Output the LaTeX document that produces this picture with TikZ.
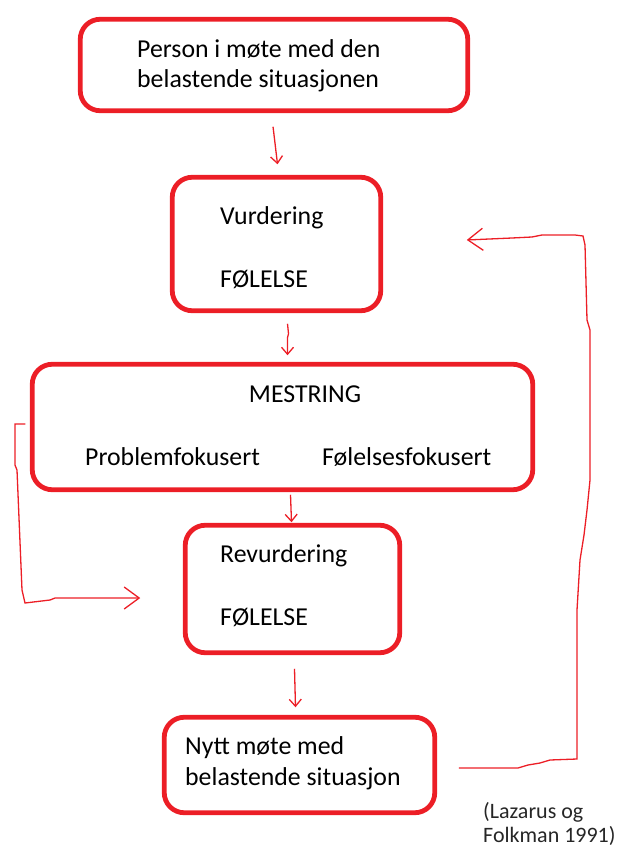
\documentclass[tikz,border=0pt]{standalone}
\usepackage{fontspec}
\setmainfont{Carlito}
\usetikzlibrary{arrows.meta}
\definecolor{pred}{RGB}{236,30,38}
\tikzset{
  box/.style={draw=pred, line width=4.8pt, rounded corners=20pt, rectangle, inner sep=0pt, outer sep=0pt},
  txt/.style={anchor=base west, inner sep=0pt, font=\fontsize{25.8}{30.5}\selectfont, align=left},
  cite/.style={anchor=base west, inner sep=0pt, font=\fontsize{22}{23.5}\selectfont, align=left, text=black!85},
  harrow/.style={draw=pred, line width=1.3pt, -{Straight Barb[length=7pt,width=12pt]}},
  larrow/.style={draw=pred, line width=1.3pt, -{Straight Barb[length=15pt,width=22pt]}},
}
\begin{document}
\begin{tikzpicture}[x=1pt,y=-1pt]
\useasboundingbox (0,0) rectangle (632,850);
% boxes
\node[box, minimum width=387.5pt, minimum height=91.5pt] (b1) at (274,65) {};
\node[box, minimum width=208.5pt, minimum height=133.5pt] (b2) at (276.5,244) {};
\node[box, minimum width=500.5pt, minimum height=125.5pt] (b3) at (282.5,427) {};
\node[box, minimum width=214.5pt, minimum height=127.5pt] (b4) at (292.5,589) {};
\node[box, minimum width=270.5pt, minimum height=95.5pt] (b5) at (299.5,765) {};
% texts (base anchor of a multi-line node is the last line)
\node[txt] (t1) at (137,88) {Person i møte med den\\belastende situasjonen};
\node[txt] (t2a) at (220,225) {Vurdering};
\node[txt] (t2b) at (220,287) {FØLELSE};
\node[txt, anchor=base] (t3a) at (305,402) {MESTRING};
\node[txt] (t3b) at (85,465) {Problemfokusert};
\node[txt] (t3c) at (322,465) {Følelsesfokusert};
\node[txt] (t4a) at (220,562) {Revurdering};
\node[txt] (t4b) at (220,625) {FØLELSE};
\node[txt] (t5) at (185,785) {Nytt møte med\\belastende situasjon};
\node[cite] (c) at (483,842) {(Lazarus og\\Folkman 1991)};
% small down arrows
\draw[harrow] ([xshift=-1pt,yshift=-16pt]b1.south) -- ++(1,8) -- ([xshift=1pt,yshift=13pt]b2.north);
\draw[harrow] ([xshift=11pt,yshift=-13pt]b2.south) -- ++(1,10) -- ++(-1,4) -- ([xshift=5pt,yshift=9pt]b3.north);
\draw[harrow] ([xshift=8pt,yshift=-5pt]b3.south) -- ([xshift=-1pt,yshift=3pt]b4.north);
\draw[harrow] ([xshift=2pt,yshift=-16pt]b4.south) -- ([xshift=-4pt,yshift=10pt]b5.north);
% left loop
\draw[larrow] ([xshift=-7pt,yshift=3pt]b3.west) -- (15,424) -- (15,465) -- (17,470) -- (22,590) -- (25,603)
  -- (50,600) -- (55,598) -- ([xshift=-45pt,yshift=-9pt]b4.west);
% right loop
\draw[larrow] ([xshift=24pt,yshift=-3pt]b5.east) -- (518,768) -- (528,765) -- (540,763) -- (550,760)
  -- (577,759) -- (577,610) -- (580,560) -- (584,535) -- (587,510) -- (590,480) -- (590,330)
  -- (587,320) -- (585,245) -- (583,236) -- (575,235) -- (542,235) -- (532,237) -- (512,238)
  -- ([xshift=86pt,yshift=4pt]b2.east);
\end{tikzpicture}
\end{document}
